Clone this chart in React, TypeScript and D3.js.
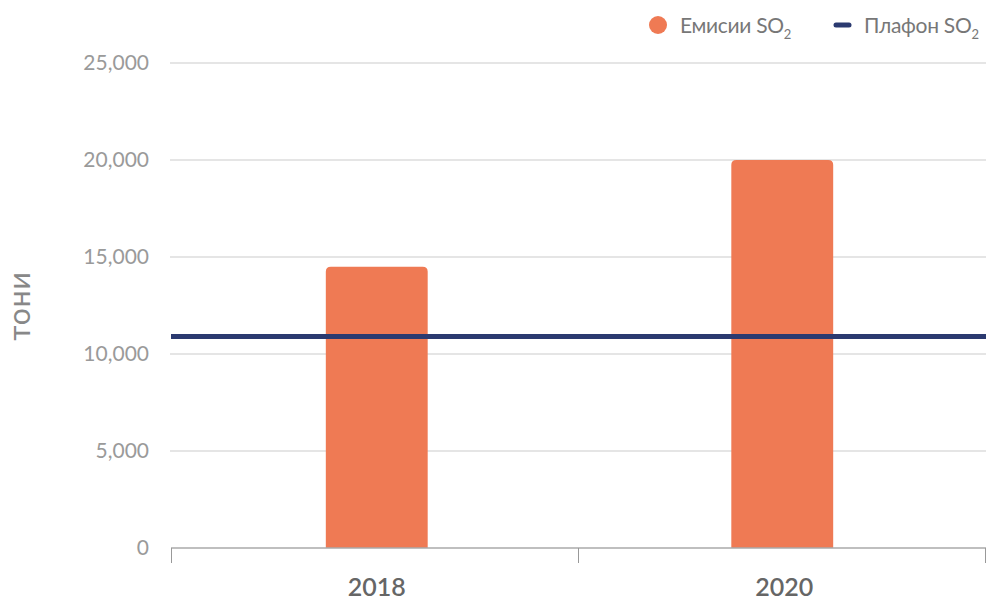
import React from "react";
import * as d3 from "d3";

const categories = ["2018", "2020"];
const emissions = [14500, 20000];
const ceiling = 10900;
const yTicks = [0, 5000, 10000, 15000, 20000, 25000];
const legendLabels = ["Емисии SO", "Плафон SO"];
const yTitle = "тони";

const W = 986, H = 600;
const left = 171, right = 986, top = 63, bottom = 548;
const ORANGE = "#ef7a54";
const NAVY = "#2b3a70";

export default function App() {
  const x = d3.scaleBand<string>().domain(categories).range([left, right]).paddingInner(0).paddingOuter(0);
  const y = d3.scaleLinear().domain([0, 25000]).range([bottom, top]);
  const fmt = d3.format(",");
  const bw = x.bandwidth() * 0.25;
  const r = 5;
  const barPath = (x0: number, y0: number, w: number, h: number) =>
    `M${x0},${y0 + h}V${y0 + r}Q${x0},${y0} ${x0 + r},${y0}H${x0 + w - r}Q${x0 + w},${y0} ${x0 + w},${y0 + r}V${y0 + h}Z`;
  const font = "Lato, 'Open Sans', sans-serif";
  return (
    <svg width={W} height={H} style={{ position: "absolute", left: 0, top: 0, display: "block" }} fontFamily={font}>
      {yTicks.map((t) => (
        <g key={t}>
          {t > 0 && <line x1={left - 1} x2={right} y1={y(t)} y2={y(t)} stroke="#dcdcdc" strokeWidth={1.5} />}
          <text x={149} y={y(t)} dy="0.35em" textAnchor="end" fontSize={21} fill="#9a9a9a">{fmt(t)}</text>
        </g>
      ))}
      {categories.map((c, i) => {
        const cx = (x(c) as number) + x.bandwidth() / 2 + (i === 0 ? 2 : 0);
        const y0 = y(emissions[i]);
        return <path key={c} d={barPath(cx - bw / 2, y0, bw, bottom - y0)} fill={ORANGE} />;
      })}
      <line x1={left} x2={right} y1={bottom} y2={bottom} stroke="#aaaaaa" strokeWidth={1.5} />
      {[...categories.map((c) => x(c) as number), right - 0.5].map((tx, i) => (
        <line key={i} x1={tx + (i === 0 ? 0.5 : 0)} x2={tx + (i === 0 ? 0.5 : 0)} y1={bottom} y2={bottom + 15} stroke="#999" strokeWidth={1} />
      ))}
      {categories.map((c) => (
        <text key={c} x={(x(c) as number) + x.bandwidth() / 2 + 2} y={596} textAnchor="middle" fontSize={25} fill="#666" fontWeight={600}>{c}</text>
      ))}
      <line x1={left} x2={right} y1={y(ceiling)} y2={y(ceiling)} stroke={NAVY} strokeWidth={5} />
      <text transform={`translate(30,306) rotate(-90)`} textAnchor="middle" fontSize={30} fill="#888" letterSpacing={1}>{yTitle}</text>
      <circle cx={658} cy={25} r={9} fill={ORANGE} />
      <text x={680} y={33} fontSize={21} fill="#777" letterSpacing={-0.3}>{legendLabels[0]}<tspan fontSize={13} dy={6}>2</tspan></text>
      <line x1={836} x2={849} y1={25} y2={25} stroke={NAVY} strokeWidth={5} strokeLinecap="round" />
      <text x={864} y={33} fontSize={21} fill="#777" letterSpacing={-0.3}>{legendLabels[1]}<tspan fontSize={13} dy={6}>2</tspan></text>
    </svg>
  );
}
